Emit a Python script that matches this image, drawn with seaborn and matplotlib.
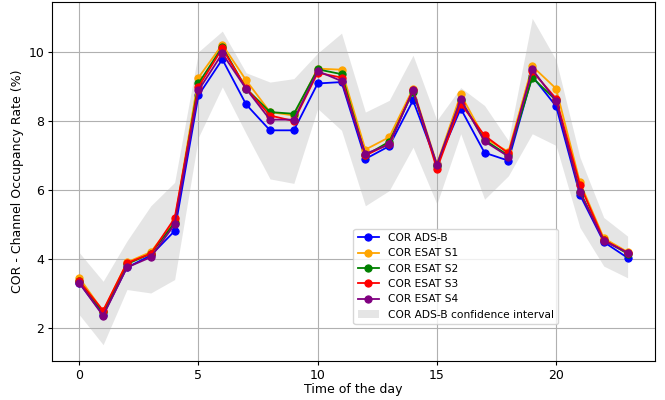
import numpy as np
import pandas as pd
import matplotlib
matplotlib.use('Agg')
import matplotlib.pyplot as plt
import seaborn as sns

# 每小时数据
hours = list(range(24))
cor_adsb = [3.30, 2.38, 3.75, 4.10, 4.81, 8.75, 9.79, 8.48, 7.73, 7.73, 9.09, 9.13,
            6.90, 7.27, 8.60, 6.75, 8.36, 7.08, 6.85, 9.30, 8.43, 5.86, 4.49, 4.03]
cor_s1 = [3.45, 2.48, 3.90, 4.20, 5.10, 9.26, 10.22, 9.18, 8.26, 8.16, 9.52, 9.49,
          7.17, 7.53, 8.94, 6.75, 8.77, 7.50, 7.11, 9.59, 8.94, 6.22, 4.60, 4.20]
cor_s2 = [3.35, 2.45, 3.85, 4.15, 5.05, 9.09, 10.15, 8.94, 8.26, 8.21, 9.50, 9.36,
          7.00, 7.40, 8.85, 6.70, 8.60, 7.45, 7.00, 9.26, 8.60, 5.95, 4.55, 4.15]
cor_s3 = [3.35, 2.50, 3.88, 4.15, 5.18, 8.99, 10.11, 8.95, 8.16, 8.00, 9.40, 9.26,
          7.00, 7.34, 8.90, 6.61, 8.50, 7.58, 7.06, 9.45, 8.65, 6.15, 4.55, 4.18]
cor_s4 = [3.30, 2.35, 3.75, 4.05, 5.00, 8.89, 9.96, 8.93, 8.04, 8.04, 9.45, 9.16,
          7.05, 7.32, 8.89, 6.73, 8.63, 7.41, 6.97, 9.50, 8.58, 5.93, 4.52, 4.18]
ci_upper = [4.18, 3.35, 4.52, 5.54, 6.22, 10.01, 10.61, 9.40, 9.13, 9.23, 9.97, 10.55,
            8.26, 8.60, 9.91, 8.02, 8.97, 8.45, 7.43, 10.98, 9.77, 6.95, 5.20, 4.66]
ci_lower = [2.38, 1.51, 3.11, 3.01, 3.40, 7.53, 8.99, 7.63, 6.32, 6.19, 8.36, 7.73,
            5.54, 5.98, 7.24, 5.59, 7.63, 5.73, 6.41, 7.63, 7.29, 4.91, 3.79, 3.45]

series = [
    ('COR ADS-B', cor_adsb, 'blue'),
    ('COR ESAT S1', cor_s1, 'orange'),
    ('COR ESAT S2', cor_s2, 'green'),
    ('COR ESAT S3', cor_s3, 'red'),
    ('COR ESAT S4', cor_s4, 'purple'),
]

fig, ax = plt.subplots(figsize=(6.65, 4), dpi=100)
fig.subplots_adjust(left=0.078, right=0.985, top=0.995, bottom=0.0975)

for label, values, color in series:
    df = pd.DataFrame({'hour': hours, 'value': values})
    sns.lineplot(data=df, x='hour', y='value', ax=ax, color=color, marker='o',
                 markersize=5.2, markeredgecolor=color, linewidth=1.3, label=label)

ax.fill_between(hours, ci_lower, ci_upper, color='gray', alpha=0.2,
                linewidth=0, label='COR ADS-B confidence interval')

ax.set_xlabel('Time of the day', fontsize=9, labelpad=1)
ax.set_ylabel('COR - Channel Occupancy Rate (%)', fontsize=9, labelpad=3)
ax.set_xticks([0, 5, 10, 15, 20])
ax.tick_params(labelsize=9, length=3, pad=2.5)
ax.grid(True)
ax.legend(loc=(0.5, 0.103), fontsize=7.7)

plt.savefig('out.png', dpi=100)
